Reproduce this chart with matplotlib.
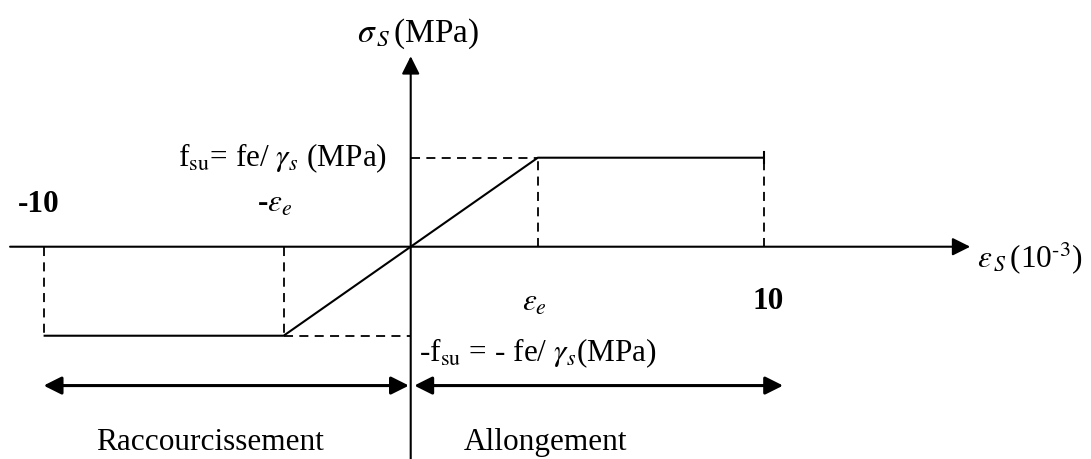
import matplotlib
matplotlib.use("Agg")
import matplotlib.pyplot as plt

plt.rcParams['font.family'] = ['Liberation Serif', 'DejaVu Serif']
plt.rcParams['mathtext.fontset'] = 'stix'

# strain (10^-3) and normalised stress (fsu = 1) of the steel law
eps_min = -10.4
eps_e = 3.6
eps_max = 10
strain = [eps_min, -eps_e, eps_e, eps_max]
stress = [-1, -1, 1, 1]

label_sigma = r'$\sigma_{\,S}\,$(MPa)'
label_eps = r'$\varepsilon_{\,S}\,$(10$^{\text{-3}}$)'
label_fsu = r'f$_{\rm su}$= fe/ $\gamma_s$ (MPa)'
label_mfsu = r'-f$_{\rm su}$ = - fe/ $\gamma_s$(MPa)'
label_short = 'Raccourcissement'
label_long = 'Allongement'

fig = plt.figure(figsize=(10.91, 4.6), dpi=100)
ax = fig.add_axes([0, 0, 1, 1])
ax.set_xlim(-11.635, 19.272)
ax.set_ylim(-2.385, 2.783)
ax.axis('off')

fs = 22.5
arrow = dict(arrowstyle='-|>,head_length=0.4,head_width=0.2', mutation_scale=27,
             lw=1.5, color='black', shrinkA=0, shrinkB=0)
darrow = dict(arrowstyle='<|-|>,head_length=0.4,head_width=0.2', mutation_scale=27,
              lw=2.2, color='black', shrinkA=0, shrinkB=0)

# axes
ax.annotate('', xy=(15.85, 0), xytext=(-11.35, 0), arrowprops=arrow)
ax.annotate('', xy=(0, 2.14), xytext=(0, -2.385), arrowprops=arrow)

# constitutive law
ax.plot(strain, stress, color='black', lw=1.5, solid_capstyle='butt')
ax.plot([eps_max, eps_max], [0.94, 1.06], color='black', lw=1.5)

# dashed guides
dash = dict(color='black', lw=1.3, linestyle=(0, (5, 3.5)))
ax.plot([0, strain[2]], [stress[2], stress[2]], **dash)
ax.plot([strain[1], 0], [stress[1], stress[1]], **dash)
for x, y in zip(strain, stress):
    ax.plot([x, x], [0, y], **dash)

# range arrows
ax.annotate('', xy=(-0.05, -1.56), xytext=(eps_min, -1.56), arrowprops=darrow)
ax.annotate('', xy=(eps_max + 0.55, -1.56), xytext=(0.1, -1.56), arrowprops=darrow)

# texts
ax.text(-1.52, 2.31, label_sigma, fontsize=24, va='baseline')
ax.text(-0.67, 0.92, label_fsu, fontsize=fs, va='baseline', ha='right')
ax.text(-11.13, 0.40, '-10', fontsize=fs, va='baseline', fontweight='bold')
ax.text(-4.35, 0.40, r'-$\varepsilon_e$', fontsize=fs, va='baseline', fontweight='bold')
ax.text(3.15, -0.71, r'$\varepsilon_e$', fontsize=fs, va='baseline')
ax.text(9.67, -0.69, '10', fontsize=fs, va='baseline', fontweight='bold')
ax.text(0.235, -1.28, label_mfsu, fontsize=fs, va='baseline')
ax.text(16.05, -0.22, label_eps, fontsize=fs, va='baseline')
ax.text(-8.91, -2.27, label_short, fontsize=fs, va='baseline')
ax.text(1.51, -2.27, label_long, fontsize=fs, va='baseline')

fig.savefig('out.png', dpi=100)
